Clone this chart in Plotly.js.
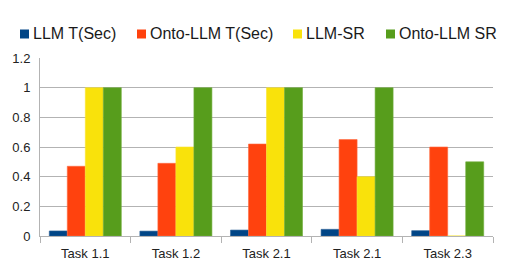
<!DOCTYPE html>
<html><head><meta charset="utf-8">
<script src="https://cdn.plot.ly/plotly-3.0.1.min.js"></script>
<style>html,body{margin:0;padding:0;background:#fff}#chart{width:517px;height:274px}</style>
</head><body><div id="chart"></div>
<script>
var categories = ["Task 1.1", "Task 1.2", "Task 2.1", "Task 2.1", "Task 2.3"];
var seriesNames = ["LLM T(Sec)", "Onto-LLM T(Sec)", "LLM-SR", "Onto-LLM SR"];
var llmT = [0.034, 0.033, 0.04, 0.045, 0.036];
var ontoLlmT = [0.47, 0.49, 0.62, 0.65, 0.60];
var llmSR = [1, 0.6, 1, 0.4, 0];
var ontoLlmSR = [1, 1, 1, 1, 0.5];
var colors = ["#004586", "#ff420e", "#f9e20b", "#579d1c"];
var lineColors = ["#2a5f95", "#ff6a40", "#f9e430", "#70ac3c"];

var W = 517, H = 274, L = 40, R = 24, T = 58, B = 38;
var pw = W - L - R, ph = H - T - B;
function px(x){ return (x - L) / pw; }
function py(y){ return (H - B - y) / ph; }

var idx = categories.map(function(_, i){ return i; });
var allVals = [llmT, ontoLlmT, llmSR, ontoLlmSR];
var data = allVals.map(function(v, k){
  return {type: "bar", x: idx, y: v, name: seriesNames[k],
    marker: {color: colors[k], line: {color: lineColors[k], width: 0.6}}};
});

var legX = [20, 137, 293, 386];
var shapes = [], annotations = [];
legX.forEach(function(x, k){
  shapes.push({type: "rect", xref: "paper", yref: "paper",
    x0: px(x), x1: px(x + 9), y0: py(38.5), y1: py(29.5),
    fillcolor: colors[k], line: {width: 0}});
  annotations.push({xref: "paper", yref: "paper", x: px(x + 11), y: py(34),
    xanchor: "left", yanchor: "middle", showarrow: false, text: seriesNames[k],
    font: {family: "Liberation Sans, Arial, sans-serif", size: 16, color: "#1a1a1a"}});
});

var layout = {
  width: W, height: H,
  margin: {l: L, r: R, t: T, b: B, pad: 0},
  paper_bgcolor: "#fff", plot_bgcolor: "#fff",
  showlegend: false,
  barmode: "group", bargap: 0.205, bargroupgap: 0,
  font: {family: "Liberation Sans, Arial, sans-serif", size: 13, color: "#222"},
  xaxis: {type: "category", tickmode: "array", tickvals: idx, ticktext: categories,
    tickson: "boundaries", ticks: "outside", ticklen: 6, tickcolor: "#b3b3b3",
    showline: true, linecolor: "#b3b3b3", linewidth: 1, showgrid: false,
    ticklabelstandoff: 5,
    tickfont: {size: 13, color: "#222"}, range: [-0.5, 4.5], fixedrange: true},
  yaxis: {range: [0, 1.2], dtick: 0.2, tick0: 0, showgrid: true, gridcolor: "#b3b3b3",
    showline: true, linecolor: "#b3b3b3", linewidth: 1, zeroline: false,
    ticks: "", ticklabelstandoff: 6, tickfont: {size: 13, color: "#222"}, fixedrange: true},
  shapes: shapes,
  annotations: annotations
};
Plotly.newPlot("chart", data, layout, {displayModeBar: false, staticPlot: true});
</script></body></html>
